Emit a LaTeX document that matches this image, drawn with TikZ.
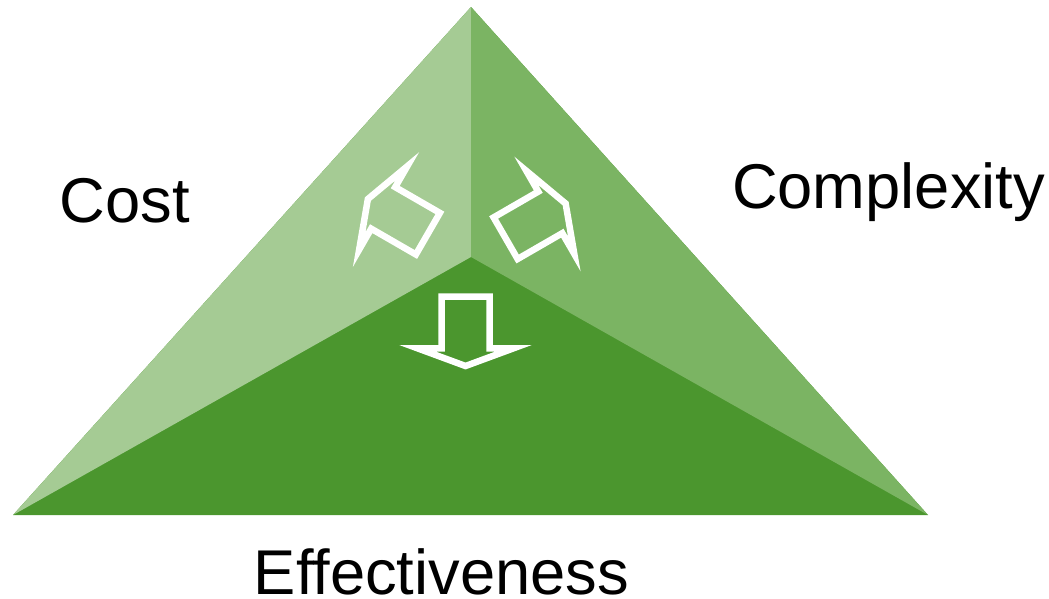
\documentclass[tikz,border=0pt]{standalone}
\usepackage{fontspec}
\setmainfont{Liberation Sans}[Ligatures=NoCommon]

\definecolor{costgreen}{HTML}{A5CB94}
\definecolor{complexgreen}{HTML}{7BB463}
\definecolor{effectgreen}{HTML}{4B962E}

\begin{document}
\begin{tikzpicture}[x=0.025cm, y=-0.025cm, every node/.style={inner sep=0, font=\fontsize{45}{50}\selectfont}, turn/.style={draw=white, line width=0.1625cm, miter limit=20}]
                    \useasboundingbox (0,0) rectangle (1049,598);
                    \coordinate (apex) at (471,7);
                    \coordinate (sw) at (13,515);
                    \coordinate (se) at (928,515);
                    \coordinate (mid) at (471,257);
                    \fill[effectgreen] (apex) -- (se) -- (sw) -- cycle;
                    \fill[costgreen] (apex) -- (mid) -- (sw) -- cycle;
                    \fill[complexgreen] (apex) -- (se) -- (mid) -- cycle;
                    \foreach \x/\y/\a in {465.5/348.3/-90, 383.2/207.9/150, 550.3/212.4/30}
                        \draw[turn, shift={(\x,\y)}, rotate=\a] (-51.6,-24) -- (0,-24) -- (0,-48) -- (17.7,0) -- (0,48) -- (0,24) -- (-51.6,24) -- cycle;
                    \node[anchor=base] (cost) at (125,222) {Cost};
                    \node[anchor=base] (complexity) at (888.5,208) {Complexity};
                    \node[anchor=base] (effect) at (441.5,594) {Effectiveness};
                \end{tikzpicture}
\end{document}
